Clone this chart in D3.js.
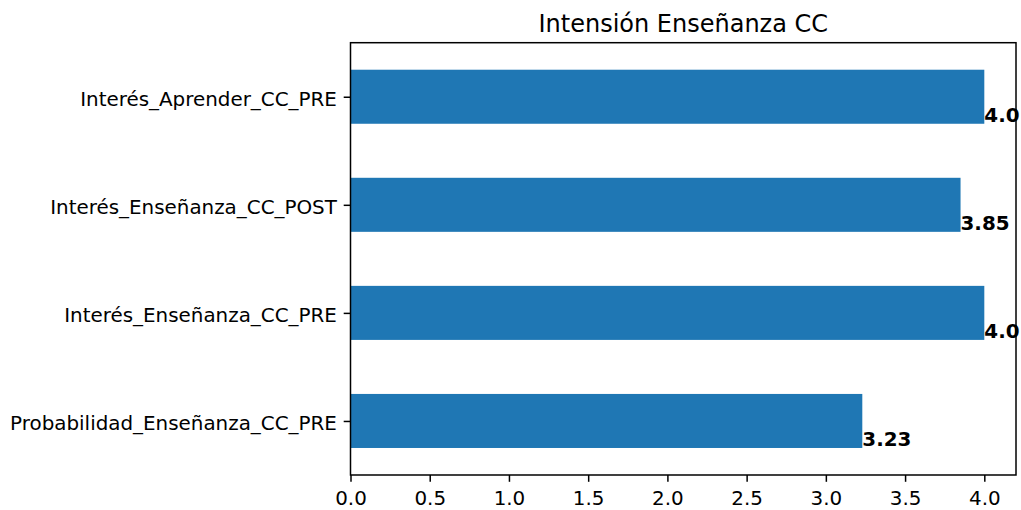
<!DOCTYPE html>
<html>
<head>
<meta charset="utf-8">
<script src="https://cdn.jsdelivr.net/npm/d3@7"></script>
<style>
  body { margin: 0; background: #fff; }
  text { font-family: "DejaVu Sans", sans-serif; }
</style>
</head>
<body>
<svg width="1021" height="510"></svg>
<script>
// Data, bottom to top as in the original barh
const categories = [
  'Probabilidad_Enseñanza_CC_PRE',
  'Interés_Enseñanza_CC_PRE',
  'Interés_Enseñanza_CC_POST',
  'Interés_Aprender_CC_PRE'
];
const values = [3.23, 4.0, 3.85, 4.0];
const valueLabels = ['3.23', '4.0', '3.85', '4.0'];
const xTicks = [0, 0.5, 1, 1.5, 2, 2.5, 3, 3.5, 4];
const title = 'Intensión Enseñanza CC';

const svg = d3.select('svg');

const margin = { top: 42.7, right: 5, bottom: 35, left: 350.5 };
const width = 1016 - margin.left;
const height = 475 - margin.top;
const fontSize = 19.9;

const g = svg.append('g')
  .attr('transform', `translate(${margin.left}, ${margin.top})`);

// x: 0..4.2 like matplotlib auto margins
const x = d3.scaleLinear().domain([0, 4.2]).range([0, width]);
// y: category index, -0.5..3.5
const y = d3.scaleLinear().domain([-0.5, categories.length - 0.5]).range([height, 0]);
const barH = 0.5;

// bars
g.selectAll('rect.bar')
  .data(values)
  .join('rect')
  .attr('class', 'bar')
  .attr('x', x(0))
  .attr('y', (d, i) => y(i + barH / 2))
  .attr('width', d => x(d) - x(0))
  .attr('height', (d, i) => y(i - barH / 2) - y(i + barH / 2))
  .attr('fill', '#1f77b4');

// value labels, bold, sitting on the bar bottom
g.selectAll('text.val')
  .data(values)
  .join('text')
  .attr('class', 'val')
  .attr('x', d => x(d))
  .attr('y', (d, i) => y(i - barH / 2) - 1.5)
  .attr('font-size', fontSize)
  .attr('font-weight', 'bold')
  .attr('fill', '#000')
  .text((d, i) => valueLabels[i]);

// x axis
const xAxis = g.append('g')
  .attr('transform', `translate(0, ${height})`)
  .call(d3.axisBottom(x).tickValues(xTicks).tickFormat(d3.format('.1f')).tickSizeOuter(0).tickSize(6.8).tickPadding(6.8));

// y axis
const yAxis = g.append('g')
  .call(d3.axisLeft(y).tickValues(d3.range(categories.length)).tickFormat(i => categories[i]).tickSizeOuter(0).tickSize(6.8).tickPadding(6.8));

[xAxis, yAxis].forEach(ax => {
  ax.select('.domain').remove();
  ax.selectAll('line').attr('stroke', '#000').attr('stroke-width', 1.5);
  ax.selectAll('text')
    .attr('font-size', fontSize)
    .attr('font-family', '"DejaVu Sans", sans-serif')
    .attr('fill', '#000');
});
xAxis.selectAll('text').attr('dy', 16.2);
yAxis.selectAll('text').attr('dy', '0.45em');

// frame
g.append('rect')
  .attr('width', width)
  .attr('height', height)
  .attr('fill', 'none')
  .attr('stroke', '#000')
  .attr('stroke-width', 1.5);

// title
svg.append('text')
  .attr('x', margin.left + width / 2)
  .attr('y', 31.5)
  .attr('text-anchor', 'middle')
  .attr('font-size', 24)
  .attr('fill', '#000')
  .text(title);
</script>
</body>
</html>
